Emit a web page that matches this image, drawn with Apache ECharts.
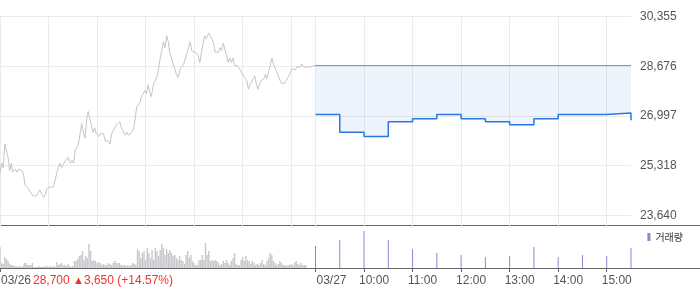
<!DOCTYPE html>
<html>
<head>
<meta charset="utf-8">
<script src="https://cdn.jsdelivr.net/npm/echarts@6/dist/echarts.min.js"></script>
<style>
html,body{margin:0;padding:0;background:#fff;}
#chart{width:700px;height:289px;}
</style>
</head>
<body>
<div id="chart"></div>
<script>
// ---- data ----
const dayLabels = ['03/26', '03/27'];
const sessionMinutes = 390;           // 09:00 - 15:30
const yMin = 23640;
const yMax = 30355;
const prevClose = 28700;
const changeParts = ['28,700', '▲', '3,650 (+14.57%)'];
const volumeName = '거래량';

// day 1 (03/26) intraday price: minute offset from 09:00, price
const day1Minutes = [0,2,4,6,8,10,12,14,16,19,21,23,25,27,29,31,33,35,37,39,41,43,45,47,49,52,54,56,58,60,62,64,66,68,70,72,74,76,78,80,82,84,87,89,91,93,95,97,99,101,103,105,107,109,111,113,115,117,119,122,124,126,128,130,132,134,136,138,140,142,144,146,148,150,152,155,157,159,161,163,165,167,169,171,173,175,177,179,181,183,185,187,190,192,194,196,198,200,202,204,206,208,210,212,214,216,218,220,223,225,227,229,231,233,235,237,239,241,243,245,247,249,251,253,255,258,260,262,264,266,268,270,272,274,276,278,280,282,284,286,288,290,293,295,297,299,301,303,305,307,309,311,313,315,317,319,321,323,326,328,330,332,334,336,338,340,342,344,346,348,350,352,354,356,358,361,363,365,367,369,371,373,375,377,379,381,383,389];
const day1Prices = [25050,25400,25250,26050,26100,25600,25150,25400,25100,25200,25100,25200,25150,25150,25050,24650,24600,24550,24450,24500,24300,24250,24300,24250,24500,24350,24250,24350,24550,24600,24600,24650,24600,24550,25050,25250,25400,25250,25350,25450,25400,25600,25400,25500,25400,25850,25950,26050,26400,26750,26450,26250,26850,27150,26900,26700,26450,26600,26400,26300,26400,26450,26400,26150,26100,26150,26050,26400,26450,26600,26700,26750,26800,26600,26500,26350,26450,26350,26400,26450,26550,26900,27300,27250,27450,27650,27750,27850,27750,28050,27800,27650,28100,28200,28300,28600,28950,29200,29500,29300,29700,29500,29100,28950,28750,28600,28400,28300,28600,28550,28750,28800,29100,29300,29500,29200,29200,29150,29200,29050,28800,28850,29450,29700,29600,29800,29700,29600,29450,29150,29200,29150,29300,29200,29450,29250,29050,28800,28950,28800,28950,28700,28700,28650,28550,28500,28350,28400,28200,27900,28050,28150,28250,28350,28050,27900,28100,28200,28250,28400,28250,28500,28700,28950,28750,28600,28500,28350,28200,28100,28150,28100,28200,28250,28400,28600,28650,28550,28650,28700,28650,28750,28650,28700,28650,28650,28650,28700];

// day 1 volume, one value every 2 minutes from 09:00 (thousand shares)
const day1VolumeStep = 2;
const day1Volumes = [
  21,5,4,11,9,7,4,3,3,2, 2,1,2,1,2,5,5,3,3,3,
  5,1,1,1,2,1,1,2,1,2, 1,2,1,2,1,6,3,4,5,3,
  3,2,4,2,1,2,7,7,9,12, 13,17,8,12,10,24,17,7,8,7,
  5,6,5,3,4,3,3,5,4,3, 5,7,5,5,5,3,3,3,2,3,
  2,3,5,4,3,19,17,10,15,17, 8,20,15,10,18,8,20,17,12,18,
  24,20,13,19,15,18,15,12,13,10, 8,12,8,7,4,13,17,10,13,7,
  5,3,3,8,8,13,8,25,13,17, 7,8,7,8,7,5,3,4,7,5,
  8,5,3,7,10,15,4,3,3,8, 11,7,12,8,7,4,7,5,3,4,
  3,5,8,4,3,7,10,15,13,7, 5,3,4,7,5,3,3,2,3,3,
  4,3,5,7,4,3,5,3,3,3
];

// day 2 (03/27): 30-minute steps from 09:00
const day2Minutes = [0,30,60,90,120,150,180,210,240,270,300,330,360,390];
const day2Prices  = [27050,26450,26300,26800,26900,27050,26900,26800,26700,26900,27050,27050,27100,26850];
const day2Volumes = [22,28,37,28,19,15,13,11,12,21,11,13,12,20];

// ---- helpers ----
const pad = n => (n < 10 ? '0' : '') + n;
const dayIndex = i => (i < sessionMinutes ? 0 : 1);
const minuteOfDay = i => i - dayIndex(i) * sessionMinutes;
const onHour = i => minuteOfDay(i) % 60 === 0;
const labelShown = i => i === 0 || (i >= sessionMinutes && onHour(i));

const categories = [];
for (let i = 0; i <= 2 * sessionMinutes; i++) {
  const t = minuteOfDay(i);
  categories.push(dayLabels[dayIndex(i)] + ' ' + pad(9 + Math.floor(t / 60)) + ':' + pad(t % 60));
}

const fontFamily = "'Liberation Sans', Arial, 'Noto Sans CJK KR', sans-serif";
const axisGrey = '#666';
const gridGrey = '#ebebeb';
const red = '#f0322c';

const chart = echarts.init(document.getElementById('chart'), null, {renderer: 'canvas'});
chart.setOption({
  animation: false,
  title: {
    text: '{r|' + changeParts[0] + '} {t|' + changeParts[1] + '}{r|' + changeParts[2] + '}',
    left: 33, top: 275, padding: 0,
    textStyle: {
      fontFamily, fontSize: 12, fontWeight: 'normal', color: red,
      rich: {
        r: {fontFamily, fontSize: 12, color: red},
        t: {fontFamily, fontSize: 11, color: red}
      }
    }
  },
  legend: {
    data: [{name: volumeName, icon: 'rect'}],
    right: 17, top: 232, padding: 0,
    itemWidth: 3, itemHeight: 8,
    selectedMode: false,
    textStyle: {fontFamily: "'Noto Sans CJK KR', sans-serif", fontSize: 10, color: '#333'}
  },
  graphic: [
    {type: 'line', silent: true, shape: {x1: 0, y1: 225.5, x2: 700, y2: 225.5}, style: {stroke: axisGrey, lineWidth: 1}},
    {type: 'line', silent: true, shape: {x1: 0, y1: 268.5, x2: 700, y2: 268.5}, style: {stroke: axisGrey, lineWidth: 1}}
  ],
  grid: [
    {left: 0, right: 69, top: 16.45, height: 199, outerBoundsMode: 'none'},
    {left: 0, right: 69, top: 226, height: 42, outerBoundsMode: 'none'}
  ],
  xAxis: [
    {
      gridIndex: 0, type: 'category', data: categories, boundaryGap: false,
      axisLine: {show: false},
      axisLabel: {show: false},
      axisTick: {show: true, interval: i => onHour(i), length: 11, lineStyle: {color: gridGrey}},
      splitLine: {show: true, interval: i => onHour(i), lineStyle: {color: gridGrey}}
    },
    {
      gridIndex: 1, type: 'category', data: categories, boundaryGap: false,
      axisLine: {show: false},
      splitLine: {show: false},
      axisTick: {show: true, interval: i => labelShown(i), length: 4, lineStyle: {color: axisGrey}},
      axisLabel: {
        interval: i => labelShown(i),
        margin: 7,
        color: '#555', fontFamily, fontSize: 12,
        formatter: (value, i) => {
          if (i === 0 || i === sessionMinutes) return '{sd| }{d|' + value.split(' ')[0] + '}';
          return '{st| }{t|' + value.split(' ')[1] + '}';
        },
        rich: {
          sd: {width: 32, fontSize: 12},
          d: {width: 40, fontFamily, fontSize: 12, color: '#555'},
          st: {width: 20, fontSize: 12},
          t: {width: 30, fontFamily, fontSize: 12, color: '#555'}
        }
      }
    },
    {gridIndex: 1, type: 'category', data: categories, boundaryGap: false, show: false}
  ],
  yAxis: [
    {
      gridIndex: 0, type: 'value', position: 'right',
      min: yMin, max: yMax, interval: (yMax - yMin) / 4,
      axisLine: {show: false}, axisTick: {show: false},
      axisLabel: {margin: 9, color: '#555', fontFamily, fontSize: 12,
        formatter: v => Math.floor(v + 1e-6).toLocaleString('en-US')},
      splitLine: {lineStyle: {color: gridGrey}}
    },
    {gridIndex: 1, type: 'value', min: 0, max: 42, show: false, splitLine: {show: false}}
  ],
  series: [
    {
      type: 'line', name: 'price', xAxisIndex: 0, yAxisIndex: 0,
      data: day1Minutes.map((m, j) => [m, day1Prices[j]]),
      symbol: 'none', silent: true,
      lineStyle: {color: '#c2c4c9', width: 1}
    },
    {
      type: 'line', name: 'prevClose', xAxisIndex: 0, yAxisIndex: 0,
      data: [[sessionMinutes, prevClose], [2 * sessionMinutes, prevClose]],
      symbol: 'none', silent: true, z: 4,
      lineStyle: {color: '#333', width: 1, type: [1, 1]}
    },
    {
      type: 'line', name: 'forecast', xAxisIndex: 0, yAxisIndex: 0,
      data: day2Minutes.map((m, j) => [sessionMinutes + m, day2Prices[j]]),
      step: 'end', symbol: 'none', silent: true, z: 3,
      lineStyle: {color: '#2c76df', width: 1.5},
      areaStyle: {origin: prevClose, color: 'rgba(35,110,220,0.11)'}
    },
    {
      type: 'bar', name: 'vol1', xAxisIndex: 1, yAxisIndex: 1,
      data: day1Volumes.map((v, j) => [j * day1VolumeStep, v]),
      barWidth: 1.4, silent: true,
      itemStyle: {color: '#c6c8cc'}
    },
    {
      type: 'bar', name: volumeName, xAxisIndex: 2, yAxisIndex: 1,
      data: day2Volumes.map((v, j) => [sessionMinutes + day2Minutes[j], v]),
      barWidth: 1, silent: true, clip: false,
      itemStyle: {color: '#9a80d4'}
    }
  ]
});
</script>
</body>
</html>
